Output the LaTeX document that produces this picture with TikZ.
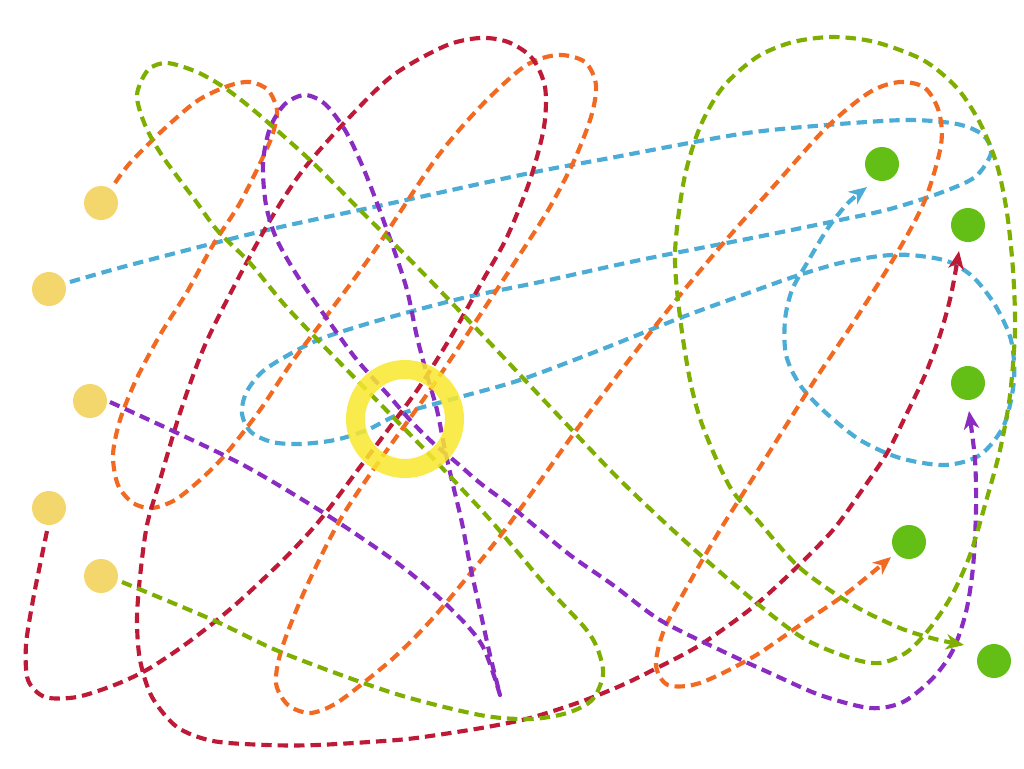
\documentclass[tikz,border=0pt]{standalone}
\usetikzlibrary{arrows.meta,calc}
\definecolor{dotyellow}{HTML}{F4D76C}
\definecolor{dotgreen}{HTML}{63BE15}
\definecolor{ringyellow}{HTML}{FAE82E}
\definecolor{rblue}{HTML}{4BACD6}
\definecolor{rorange}{HTML}{F26A21}
\definecolor{rred}{HTML}{BE1A38}
\definecolor{rpurple}{HTML}{8A2BC2}
\definecolor{rolive}{HTML}{7EAF00}
\tikzset{
  route/.style={line width=3.1pt, dash pattern=on 7.8pt off 4.5pt, line cap=butt, line join=round},
  tipped/.style={-{Stealth[length=13.5pt,width=11.5pt,inset=4pt]}},
  src/.style={circle, fill=dotyellow, minimum size=25.5pt, inner sep=0pt},
  dst/.style={circle, fill=dotgreen, minimum size=25.5pt, inner sep=0pt},
  hub/.style={circle, draw=ringyellow, line width=14.25pt, minimum size=74.25pt, inner sep=0pt, draw opacity=0.85},
}
\begin{document}
\begin{tikzpicture}[x=0.75pt,y=-0.75pt]
\useasboundingbox[fill=white] (0,0) rectangle (1024,768);
% node positions
\coordinate (y1) at (101,203);
\coordinate (y2) at (49,289);
\coordinate (y3) at (90,401);
\coordinate (y4) at (49,508);
\coordinate (y5) at (101,576);
\coordinate (g1) at (882,164);
\coordinate (g2) at (968,225);
\coordinate (g3) at (968,383);
\coordinate (g4) at (909,542);
\coordinate (g5) at (994,661);
\coordinate (hubc) at (405,419);

% blue route: y2 -> g1
\draw[route, rblue, tipped] plot[smooth] coordinates {
  ($(y2)+(21,-7)$) (130,265) (263,231) (397,202) (530,173) (610,158) (740,134) (827,125) (907,120) (957,124) (983,135) (991,153) (975,177) (940,193) (890,209) (840,220) (757,237) (640,260) (540,282) (463,298) (380,320) (323,338) (290,354) (262,372) (246,393) (242,414) (251,432) (272,442) (300,444) (335,440) (367,430) (400,414) (460,397) (520,380) (600,350) (680,318) (740,296) (793,277) (840,263) (880,256) (910,255) (947,261) (973,277) (995,305) (1011,340) (1014,380) (1004,425) (980,455) (945,465) (900,458) (860,440) (825,412) (800,385) (786,355) (785,320) (792,290) (807,263) (828,228) (848,203) ($(g1)+(-15,23)$)};

% orange route: y1 -> g4
\draw[route, rorange, tipped] plot[smooth] coordinates {
  ($(y1)+(14,-20)$) (130,163) (163,130) (197,101) (228,86) (250,82) (268,90) (277,110) (273,133) (263,157) (240,203) (213,245) (187,292) (160,335) (136,380) (120,420) (113,455) (118,485) (133,503) (152,508) (175,500) (200,480) (225,455) (260,410) (292,362) (325,318) (375,250) (435,160) (480,107) (525,66) (558,55) (585,62) (596,85) (591,117) (573,163) (547,212) (513,265) (480,315) (430,390) (380,460) (340,520) (305,590) (282,648) (276,683) (288,705) (310,713) (335,704) (367,680) (400,652) (440,610) (507,527) (580,425) (660,320) (720,247) (773,187) (827,127) (870,92) (900,82) (925,88) (939,112) (941,145) (925,200) (897,253) (857,317) (813,383) (760,467) (720,530) (687,587) (664,630) (656,665) (668,685) (700,683) (753,657) (803,623) (847,593) ($(g4)+(-18,15)$)};

% red route: y4 -> g2
\draw[route, rred, tipped] plot[smooth] coordinates {
  ($(y4)+(-2,23)$) (40,565) (33,600) (26,645) (28,680) (45,697) (77,697) (117,684) (150,668) (190,641) (235,605) (283,560) (320,520) (360,467) (390,427) (420,386) (452,335) (483,280) (507,237) (530,180) (544,127) (545,87) (532,58) (508,42) (480,38) (445,46) (392,76) (345,122) (303,170) (272,217) (240,275) (205,345) (180,413) (160,480) (147,525) (140,577) (137,620) (140,660) (152,697) (177,727) (213,741) (267,745) (317,745) (397,740) (437,735) (487,727) (530,718) (580,702) (620,686) (653,670) (700,645) (753,607) (797,567) (833,530) (860,493) (887,453) (907,413) (925,375) (940,335) (951,295) ($(g2)+(-9,26)$)};

% purple route: y3 -> g3
\draw[route, rpurple, tipped] plot[smooth] coordinates {
  ($(y3)+(20,1)$) (173,431) (247,467) (327,515) (400,565) (450,608) (482,645) (500,695)}
  -- plot[smooth] coordinates {(500,695) (490,655) (480,610) (470,565) (462,523) (453,485) (445,450) (437,410) (427,375) (417,337) (407,290) (393,247) (377,203) (362,165) (345,130) (325,104) (305,95) (285,104) (270,128) (263,163) (266,205) (277,240) (300,280) (330,323) (357,360) (390,397) (410,420) (433,443) (457,463) (480,483) (507,503) (530,522) (570,555) (613,585) (660,620) (720,650) (770,673) (820,695) (870,708) (903,702) (933,678) (953,650) (966,612) (973,567) (976,510) (975,460) ($(g3)+(1,28)$)};

% olive route: y5 -> g5
\draw[route, rolive, tipped] plot[smooth] coordinates {
  ($(y5)+(21,6)$) (213,620) (283,653) (393,693) (480,715) (530,719) (567,713) (592,700) (603,675) (598,650) (585,628) (547,587) (493,523) (460,487) (427,452) (393,417) (347,370) (313,335) (283,303) (250,263) (217,230) (195,200) (163,157) (145,125) (137,95) (148,70) (167,63) (197,72) (225,88) (257,113) (310,160) (357,207) (423,273) (490,343) (555,412) (620,480) (687,543) (753,600) (803,638) (850,658) (880,663) (907,652) (930,628) (952,595) (970,555) (985,505) (1000,450) (1010,395) (1015,330) (1013,270) (1007,213) (997,165) (980,123) (957,88) (923,60) (875,42) (833,37) (793,42) (757,57) (723,87) (700,127) (684,180) (675,253) (680,317) (690,380) (703,427) (730,487) (760,523) (800,568) (853,605) (900,628) (935,639) ($(g5)+(-30,-16)$)};

% hub ring
\node[hub] (hub) at (hubc) {};

% source and destination dots
\node[src] (s1) at (y1) {};
\node[src] (s2) at (y2) {};
\node[src] (s3) at (y3) {};
\node[src] (s4) at (y4) {};
\node[src] (s5) at (y5) {};
\node[dst] (d1) at (g1) {};
\node[dst] (d2) at (g2) {};
\node[dst] (d3) at (g3) {};
\node[dst] (d4) at (g4) {};
\node[dst] (d5) at (g5) {};
\end{tikzpicture}
\end{document}
